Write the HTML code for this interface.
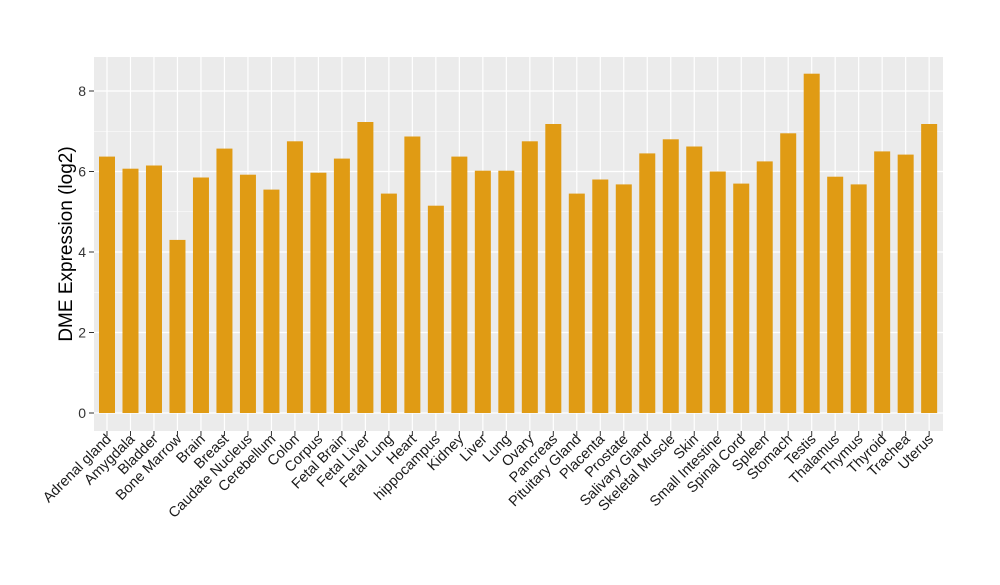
<!DOCTYPE html><html><head><style>body{margin:0;background:#fff}</style></head><body>
<svg width="1000" height="580" xmlns="http://www.w3.org/2000/svg" font-family="Liberation Sans, Arial, sans-serif">
<rect x="94" y="57" width="849" height="374" fill="#ebebeb"/>
<g stroke="#fff" stroke-width="0.6">
<line x1="94" x2="943" y1="372.75" y2="372.75"/><line x1="94" x2="943" y1="292.25" y2="292.25"/><line x1="94" x2="943" y1="211.75" y2="211.75"/><line x1="94" x2="943" y1="131.25" y2="131.25"/>
</g>
<g stroke="#fff" stroke-width="1.2">
<line x1="94" x2="943" y1="413" y2="413"/><line x1="94" x2="943" y1="332.5" y2="332.5"/><line x1="94" x2="943" y1="252" y2="252"/><line x1="94" x2="943" y1="171.5" y2="171.5"/><line x1="94" x2="943" y1="91" y2="91"/>
<line x1="107" x2="107" y1="57" y2="431"/><line x1="130.49" x2="130.49" y1="57" y2="431"/><line x1="153.98" x2="153.98" y1="57" y2="431"/><line x1="177.47" x2="177.47" y1="57" y2="431"/><line x1="200.96" x2="200.96" y1="57" y2="431"/><line x1="224.45" x2="224.45" y1="57" y2="431"/><line x1="247.94" x2="247.94" y1="57" y2="431"/><line x1="271.43" x2="271.43" y1="57" y2="431"/><line x1="294.92" x2="294.92" y1="57" y2="431"/><line x1="318.41" x2="318.41" y1="57" y2="431"/><line x1="341.9" x2="341.9" y1="57" y2="431"/><line x1="365.39" x2="365.39" y1="57" y2="431"/><line x1="388.88" x2="388.88" y1="57" y2="431"/><line x1="412.37" x2="412.37" y1="57" y2="431"/><line x1="435.86" x2="435.86" y1="57" y2="431"/><line x1="459.35" x2="459.35" y1="57" y2="431"/><line x1="482.84" x2="482.84" y1="57" y2="431"/><line x1="506.33" x2="506.33" y1="57" y2="431"/><line x1="529.82" x2="529.82" y1="57" y2="431"/><line x1="553.31" x2="553.31" y1="57" y2="431"/><line x1="576.8" x2="576.8" y1="57" y2="431"/><line x1="600.29" x2="600.29" y1="57" y2="431"/><line x1="623.78" x2="623.78" y1="57" y2="431"/><line x1="647.27" x2="647.27" y1="57" y2="431"/><line x1="670.76" x2="670.76" y1="57" y2="431"/><line x1="694.25" x2="694.25" y1="57" y2="431"/><line x1="717.74" x2="717.74" y1="57" y2="431"/><line x1="741.23" x2="741.23" y1="57" y2="431"/><line x1="764.72" x2="764.72" y1="57" y2="431"/><line x1="788.21" x2="788.21" y1="57" y2="431"/><line x1="811.7" x2="811.7" y1="57" y2="431"/><line x1="835.19" x2="835.19" y1="57" y2="431"/><line x1="858.68" x2="858.68" y1="57" y2="431"/><line x1="882.17" x2="882.17" y1="57" y2="431"/><line x1="905.66" x2="905.66" y1="57" y2="431"/><line x1="929.15" x2="929.15" y1="57" y2="431"/>
</g>
<g fill="#e09b14">
<rect x="99" y="156.6" width="16" height="256.4"/><rect x="122.49" y="168.7" width="16" height="244.3"/><rect x="145.98" y="165.5" width="16" height="247.5"/><rect x="169.47" y="239.9" width="16" height="173.1"/><rect x="192.96" y="177.5" width="16" height="235.5"/><rect x="216.45" y="148.6" width="16" height="264.4"/><rect x="239.94" y="174.7" width="16" height="238.3"/><rect x="263.43" y="189.6" width="16" height="223.4"/><rect x="286.92" y="141.3" width="16" height="271.7"/><rect x="310.41" y="172.7" width="16" height="240.3"/><rect x="333.9" y="158.6" width="16" height="254.4"/><rect x="357.39" y="122" width="16" height="291"/><rect x="380.88" y="193.6" width="16" height="219.4"/><rect x="404.37" y="136.5" width="16" height="276.5"/><rect x="427.86" y="205.7" width="16" height="207.3"/><rect x="451.35" y="156.6" width="16" height="256.4"/><rect x="474.84" y="170.7" width="16" height="242.3"/><rect x="498.33" y="170.7" width="16" height="242.3"/><rect x="521.82" y="141.3" width="16" height="271.7"/><rect x="545.31" y="124" width="16" height="289"/><rect x="568.8" y="193.6" width="16" height="219.4"/><rect x="592.29" y="179.5" width="16" height="233.5"/><rect x="615.78" y="184.4" width="16" height="228.6"/><rect x="639.27" y="153.4" width="16" height="259.6"/><rect x="662.76" y="139.3" width="16" height="273.7"/><rect x="686.25" y="146.5" width="16" height="266.5"/><rect x="709.74" y="171.5" width="16" height="241.5"/><rect x="733.23" y="183.6" width="16" height="229.4"/><rect x="756.72" y="161.4" width="16" height="251.6"/><rect x="780.21" y="133.3" width="16" height="279.7"/><rect x="803.7" y="73.7" width="16" height="339.3"/><rect x="827.19" y="176.7" width="16" height="236.3"/><rect x="850.68" y="184.4" width="16" height="228.6"/><rect x="874.17" y="151.4" width="16" height="261.6"/><rect x="897.66" y="154.6" width="16" height="258.4"/><rect x="921.15" y="124" width="16" height="289"/>
</g>
<g stroke="#333">
<line x1="89" x2="94" y1="413" y2="413"/><line x1="89" x2="94" y1="332.5" y2="332.5"/><line x1="89" x2="94" y1="252" y2="252"/><line x1="89" x2="94" y1="171.5" y2="171.5"/><line x1="89" x2="94" y1="91" y2="91"/>
</g>
<g font-size="14" fill="#333" text-anchor="end">
<text x="86" y="418">0</text><text x="86" y="337.5">2</text><text x="86" y="257">4</text><text x="86" y="176.5">6</text><text x="86" y="96">8</text>
</g>
<g font-size="14.5" fill="#1a1a1a" text-anchor="end">
<text transform="translate(112,440) rotate(-45)">Adrenal gland</text>
<text transform="translate(135.49,440) rotate(-45)">Amygdala</text>
<text transform="translate(158.98,440) rotate(-45)">Bladder</text>
<text transform="translate(182.47,440) rotate(-45)">Bone Marrow</text>
<text transform="translate(205.96,440) rotate(-45)">Brain</text>
<text transform="translate(229.45,440) rotate(-45)">Breast</text>
<text transform="translate(252.94,440) rotate(-45)">Caudate Nucleus</text>
<text transform="translate(276.43,440) rotate(-45)">Cerebellum</text>
<text transform="translate(299.92,440) rotate(-45)">Colon</text>
<text transform="translate(323.41,440) rotate(-45)">Corpus</text>
<text transform="translate(346.9,440) rotate(-45)">Fetal Brain</text>
<text transform="translate(370.39,440) rotate(-45)">Fetal Liver</text>
<text transform="translate(393.88,440) rotate(-45)">Fetal Lung</text>
<text transform="translate(417.37,440) rotate(-45)">Heart</text>
<text transform="translate(440.86,440) rotate(-45)">hippocampus</text>
<text transform="translate(464.35,440) rotate(-45)">Kidney</text>
<text transform="translate(487.84,440) rotate(-45)">Liver</text>
<text transform="translate(511.33,440) rotate(-45)">Lung</text>
<text transform="translate(534.82,440) rotate(-45)">Ovary</text>
<text transform="translate(558.31,440) rotate(-45)">Pancreas</text>
<text transform="translate(581.8,440) rotate(-45)">Pituitary Gland</text>
<text transform="translate(605.29,440) rotate(-45)">Placenta</text>
<text transform="translate(628.78,440) rotate(-45)">Prostate</text>
<text transform="translate(652.27,440) rotate(-45)">Salivary Gland</text>
<text transform="translate(675.76,440) rotate(-45)">Skeletal Muscle</text>
<text transform="translate(699.25,440) rotate(-45)">Skin</text>
<text transform="translate(722.74,440) rotate(-45)">Small Intestine</text>
<text transform="translate(746.23,440) rotate(-45)">Spinal Cord</text>
<text transform="translate(769.72,440) rotate(-45)">Spleen</text>
<text transform="translate(793.21,440) rotate(-45)">Stomach</text>
<text transform="translate(816.7,440) rotate(-45)">Testis</text>
<text transform="translate(840.19,440) rotate(-45)">Thalamus</text>
<text transform="translate(863.68,440) rotate(-45)">Thymus</text>
<text transform="translate(887.17,440) rotate(-45)">Thyroid</text>
<text transform="translate(910.66,440) rotate(-45)">Trachea</text>
<text transform="translate(934.15,440) rotate(-45)">Uterus</text>
</g>
<g stroke="#333">
<line x1="107" x2="107" y1="431" y2="436"/><line x1="130.49" x2="130.49" y1="431" y2="436"/><line x1="153.98" x2="153.98" y1="431" y2="436"/><line x1="177.47" x2="177.47" y1="431" y2="436"/><line x1="200.96" x2="200.96" y1="431" y2="436"/><line x1="224.45" x2="224.45" y1="431" y2="436"/><line x1="247.94" x2="247.94" y1="431" y2="436"/><line x1="271.43" x2="271.43" y1="431" y2="436"/><line x1="294.92" x2="294.92" y1="431" y2="436"/><line x1="318.41" x2="318.41" y1="431" y2="436"/><line x1="341.9" x2="341.9" y1="431" y2="436"/><line x1="365.39" x2="365.39" y1="431" y2="436"/><line x1="388.88" x2="388.88" y1="431" y2="436"/><line x1="412.37" x2="412.37" y1="431" y2="436"/><line x1="435.86" x2="435.86" y1="431" y2="436"/><line x1="459.35" x2="459.35" y1="431" y2="436"/><line x1="482.84" x2="482.84" y1="431" y2="436"/><line x1="506.33" x2="506.33" y1="431" y2="436"/><line x1="529.82" x2="529.82" y1="431" y2="436"/><line x1="553.31" x2="553.31" y1="431" y2="436"/><line x1="576.8" x2="576.8" y1="431" y2="436"/><line x1="600.29" x2="600.29" y1="431" y2="436"/><line x1="623.78" x2="623.78" y1="431" y2="436"/><line x1="647.27" x2="647.27" y1="431" y2="436"/><line x1="670.76" x2="670.76" y1="431" y2="436"/><line x1="694.25" x2="694.25" y1="431" y2="436"/><line x1="717.74" x2="717.74" y1="431" y2="436"/><line x1="741.23" x2="741.23" y1="431" y2="436"/><line x1="764.72" x2="764.72" y1="431" y2="436"/><line x1="788.21" x2="788.21" y1="431" y2="436"/><line x1="811.7" x2="811.7" y1="431" y2="436"/><line x1="835.19" x2="835.19" y1="431" y2="436"/><line x1="858.68" x2="858.68" y1="431" y2="436"/><line x1="882.17" x2="882.17" y1="431" y2="436"/><line x1="905.66" x2="905.66" y1="431" y2="436"/><line x1="929.15" x2="929.15" y1="431" y2="436"/>
</g>
<text transform="translate(72,244) rotate(-90)" text-anchor="middle" font-size="19" fill="#000">DME Expression (log2)</text>
</svg></body></html>
